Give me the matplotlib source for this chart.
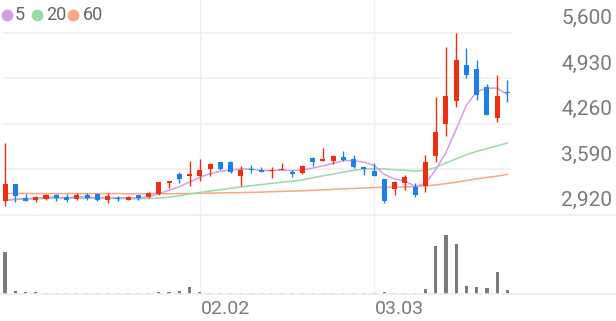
import matplotlib.pyplot as plt
import numpy as np

# daily candles (KRW)
opens = [3115, 3370, 3165, 3140, 3145, 3205, 3180, 3145, 3205, 3225,
         3135, 3170, 3140, 3200, 3175, 3215, 3385, 3515, 3490, 3490,
         3590, 3690, 3700, 3485, 3595, 3570, 3560, 3580, 3540, 3525,
         3750, 3715, 3715, 3765, 3740, 3615, 3560, 3445, 3295, 3380,
         3320, 3335, 3775, 4255, 4585, 5115, 5065, 4805, 4345, 4730]
highs = [3975, 3375, 3225, 3190, 3215, 3225, 3215, 3230, 3240, 3230,
         3235, 3190, 3190, 3210, 3245, 3400, 3420, 3540, 3710, 3735,
         3685, 3700, 3705, 3630, 3655, 3615, 3615, 3685, 3570, 3645,
         3765, 3900, 3790, 3850, 3790, 3615, 3675, 3445, 3415, 3495,
         3380, 3790, 4645, 5385, 5590, 5370, 5190, 4845, 4980, 4895]
lows = [3040, 3110, 3120, 3105, 3140, 3125, 3110, 3130, 3135, 3120,
        3090, 3115, 3135, 3140, 3160, 3200, 3305, 3380, 3345, 3410,
        3480, 3570, 3535, 3345, 3530, 3545, 3460, 3570, 3470, 3520,
        3640, 3705, 3665, 3705, 3610, 3495, 3480, 3090, 3200, 3275,
        3175, 3250, 3690, 4070, 4510, 4935, 4610, 4385, 4280, 4575]
closes = [3370, 3190, 3125, 3185, 3210, 3165, 3140, 3205, 3165, 3130,
          3195, 3145, 3180, 3165, 3230, 3395, 3415, 3440, 3510, 3580,
          3665, 3585, 3540, 3580, 3580, 3550, 3580, 3595, 3520, 3635,
          3690, 3740, 3780, 3730, 3615, 3595, 3485, 3125, 3395, 3470,
          3200, 3690, 4130, 4660, 5190, 4975, 4685, 4390, 4670, 4705]
volumes = [417, 33, 15, 15, 12, 10, 10, 11, 10, 12,
           10, 9, 10, 11, 10, 18, 20, 30, 70, 18,
           12, 10, 10, 9, 10, 10, 9, 10, 10, 9,
           10, 10, 9, 10, 10, 9, 10, 23, 6, 6,
           6, 50, 470, 580, 490, 80, 70, 57, 220, 40]

# moving averages
ma5 = [3125, 3140, 3150, 3160, 3175, 3175, 3165, 3181, 3177, 3161,
       3167, 3168, 3163, 3163, 3183, 3223, 3277, 3329, 3398, 3468,
       3522, 3556, 3576, 3590, 3590, 3567, 3566, 3577, 3565, 3576,
       3604, 3636, 3673, 3715, 3711, 3692, 3641, 3510, 3443, 3414,
       3335, 3376, 3577, 3830, 4174, 4529, 4728, 4780, 4782, 4685]
ma20 = [3140, 3145, 3150, 3152, 3155, 3158, 3160, 3160, 3160, 3160,
        3158, 3155, 3152, 3152, 3155, 3162, 3175, 3195, 3220, 3245,
        3265, 3285, 3305, 3325, 3345, 3360, 3378, 3395, 3410, 3430,
        3460, 3490, 3515, 3545, 3570, 3590, 3595, 3590, 3580, 3570,
        3560, 3570, 3610, 3680, 3740, 3800, 3850, 3890, 3930, 3975]
ma60 = [3230, 3230, 3230, 3228, 3228, 3228, 3228, 3228, 3228, 3228,
        3228, 3228, 3225, 3225, 3225, 3225, 3225, 3228, 3230, 3232,
        3235, 3238, 3240, 3243, 3246, 3250, 3255, 3260, 3265, 3270,
        3276, 3283, 3290, 3297, 3304, 3310, 3316, 3320, 3323, 3326,
        3330, 3340, 3355, 3375, 3395, 3420, 3445, 3465, 3485, 3510]

price_ticks = [2920, 3590, 4260, 4930, 5600]
date_ticks = [19, 36]
date_labels = ['02.02', '03.03']
ma_labels = ['5', '20', '60']

UP = '#ee2e10'
DOWN = '#1b7ff0'
MA_COLORS = ['#d79bec', '#97dba6', '#f8a882']
GRID = '#f0f0f0'
TEXT = '#7a7a7a'

W, H = 616, 321
fig = plt.figure(figsize=(W / 100, H / 100), dpi=100)
fig.patch.set_facecolor('white')

x0, x1 = 3 / W, 511 / W
sep = 214.5
base = 294
ax = fig.add_axes([x0, 1 - sep / H, x1 - x0, sep / H])
axv = fig.add_axes([x0, 1 - base / H, x1 - x0, (base - sep) / H])

n = len(closes)
x = np.arange(n)
o = np.array(opens)
c = np.array(closes)
colors = [UP if cc >= oo else DOWN for oo, cc in zip(o, c)]

for a in (ax, axv):
    a.set_xlim(-0.2, 49.35)
    a.axis('off')
    for t in date_ticks:
        a.axvline(t, color=GRID, lw=1, zorder=0)

ax.set_ylim(2920, 6079)
for p in price_ticks[1:]:
    ax.axhline(p, color=GRID, lw=1.2, zorder=0)

# MA lines
for vals, col in zip([ma60, ma20, ma5], MA_COLORS[::-1]):
    ax.plot(x, vals, color=col, lw=1.1, zorder=2)

# candles
ax.vlines(x, lows, highs, colors=colors, lw=1.0, zorder=3)
body = np.maximum(np.abs(c - o), 15)
ax.bar(x, body, bottom=np.minimum(o, c), width=0.5, color=colors, zorder=4)

# volume
axv.set_ylim(0, 786)
axv.bar(x, volumes, width=0.32, color='#7b7b7b', zorder=3)

# full-width separators
for yy in (sep, base):
    fig.add_artist(plt.Line2D([0, 1], [1 - yy / H, 1 - yy / H],
                              color='#ececec', lw=1.2, transform=fig.transFigure))

# price labels on the right
for p in price_ticks:
    ax.annotate(f'{p:,}', xy=(612 / W, p), xycoords=('figure fraction', 'data'),
                xytext=(0, 10), textcoords='offset points', ha='right', va='center',
                fontsize=15, color=TEXT, family='Roboto')

# date labels
for t, lab in zip(date_ticks, date_labels):
    axv.annotate(lab, xy=(t, 0), xycoords='data', xytext=(0.5, -10.5),
                 textcoords='offset points', ha='left', va='center',
                 fontsize=14, color=TEXT, family='Roboto')

# legend
dot_x = [6.7, 37, 73]
txt_x = [15, 46, 83]
for lab, col, dx, tx in zip(ma_labels, MA_COLORS, dot_x, txt_x):
    fig.add_artist(plt.Line2D([dx / W], [1 - 15 / H], marker='o', markersize=7.5,
                              color=col, transform=fig.transFigure))
    fig.text(tx / W, 1 - 15.5 / H, lab, ha='left', va='center', fontsize=13,
             color='#666666', family='Roboto')

fig.savefig('out.png', dpi=100)
